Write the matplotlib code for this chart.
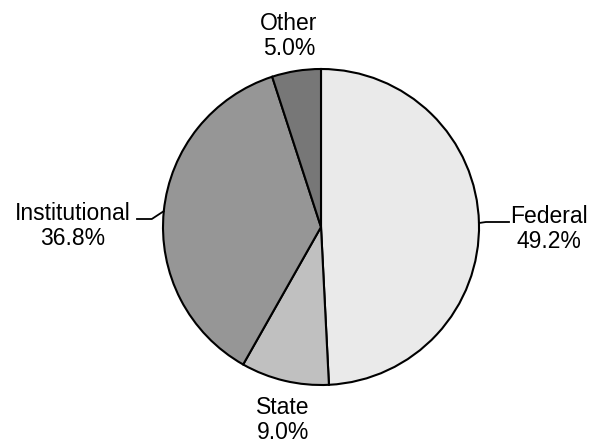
"""
Funding sources pie chart: share of total by source.
"""

import numpy as np
import matplotlib.pyplot as plt

plt.rcParams["font.family"] = ["Liberation Sans", "DejaVu Sans"]

OUTPUT_PATH = "out.png"

sources = ["Federal", "State", "Institutional", "Other"]
shares = [49.2, 9.0, 36.8, 5.0]
colors = ["#EAEAEA", "#C0C0C0", "#969696", "#777777"]

W, H = 595, 443
CENTER = (321, H - 227)
RADIUS = 158


def edge_point(wedge):
    mid = np.deg2rad((wedge.theta1 + wedge.theta2) / 2)
    return CENTER[0] + RADIUS * np.cos(mid), CENTER[1] + RADIUS * np.sin(mid)


def plot_pie(save_path):
    fig = plt.figure(figsize=(W / 100, H / 100), dpi=100)
    ax = fig.add_axes([0, 0, 1, 1])

    wedges, _ = ax.pie(shares, colors=colors, startangle=90, counterclock=False,
                       center=CENTER, radius=RADIUS, frame=True,
                       wedgeprops=dict(edgecolor="black", linewidth=1.5))
    ax.set_xlim(0, W)
    ax.set_ylim(0, H)
    ax.axis("off")

    labels = [f"{s}\n{v:.1f}%" for s, v in zip(sources, shares)]
    # text centres (pixel layout, y measured from top)
    text_pos = {"Federal": (549, 229), "State": (283, 420),
                "Institutional": (73, 226), "Other": (289, 36)}

    for w, src, lab in zip(wedges, sources, labels):
        tx, ty = text_pos[src]
        ax.text(tx, H - ty, lab, ha="center", va="center", fontsize=16.5,
                linespacing=1.15)

    # leader lines for the side labels
    ex, ey = edge_point(wedges[0])
    ax.plot([ex, ex + 7, 509], [ey, H - 222, H - 222], color="black", lw=1.3)
    ex, ey = edge_point(wedges[2])
    ax.plot([ex, ex - 12, 137], [ey, H - 219, H - 219], color="black", lw=1.3)

    fig.savefig(save_path, dpi=100)


if __name__ == "__main__":
    plot_pie(OUTPUT_PATH)
